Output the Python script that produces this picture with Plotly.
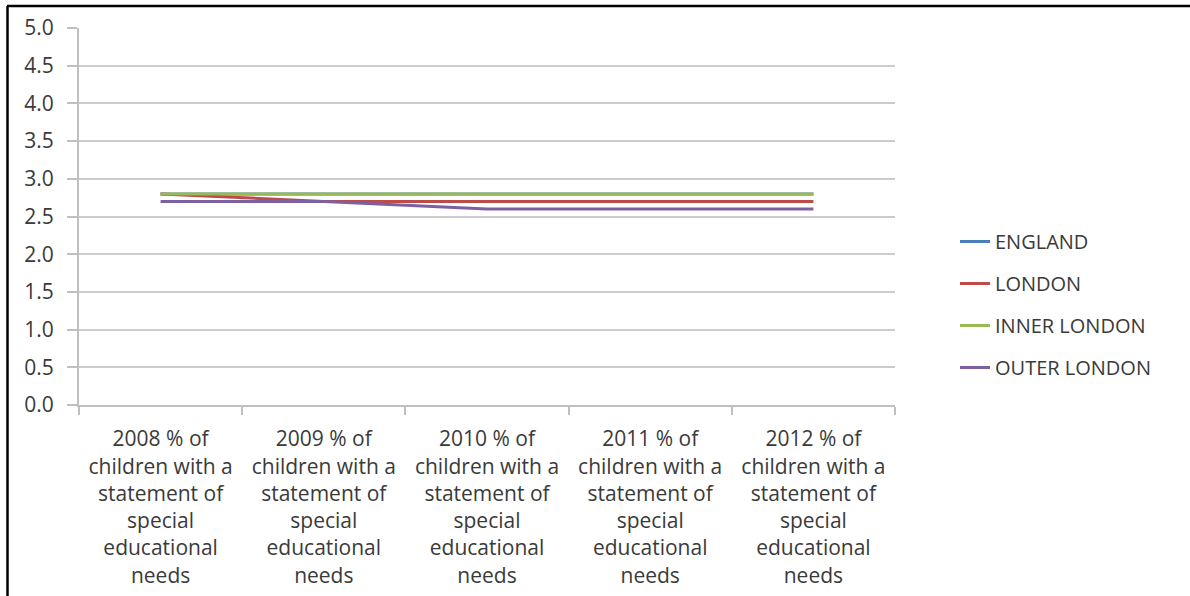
import plotly.graph_objects as go

# Percentage of children with a statement of special educational needs
years = ["2008", "2009", "2010", "2011", "2012"]
categories = [f"{y} % of<br>children with a<br>statement of<br>special<br>educational<br>needs" for y in years]

england = [2.8, 2.8, 2.8, 2.8, 2.8]
london = [2.8, 2.7, 2.7, 2.7, 2.7]
inner_london = [2.8, 2.8, 2.8, 2.8, 2.8]
outer_london = [2.7, 2.7, 2.6, 2.6, 2.6]

series = [
    ("ENGLAND", england, "#4A7EBB"),
    ("LONDON", london, "#BE4B48"),
    ("INNER LONDON", inner_london, "#98B954"),
    ("OUTER LONDON", outer_london, "#7D60A0"),
]

FONT = "Open Sans"
TEXT = "#3A3A3A"

fig = go.Figure()
for i, (name, vals, color) in enumerate(series):
    fig.add_trace(go.Scatter(
        x=categories, y=vals, name=name, mode="lines",
        line=dict(color=color, width=3),
        legendgroup=f"g{i}",
    ))

# Plot area geometry in pixels
L, R, T, B = 79, 895, 28, 405
W, H = 1190, 596
pw, ph = R - L, B - T

fig.update_layout(
    width=W, height=H,
    margin=dict(l=L, r=W - R, t=T, b=H - B),
    paper_bgcolor="white", plot_bgcolor="white",
    font=dict(family=FONT, size=18, color=TEXT),
    showlegend=True,
    legend=dict(
        x=(955 - L) / pw, y=(405 - 222) / ph, xanchor="left", yanchor="top",
        font=dict(family=FONT, size=20, color=TEXT),
        traceorder="grouped", tracegroupgap=13,
        bgcolor="rgba(0,0,0,0)",
    ),
    xaxis=dict(
        type="category", tickson="boundaries", automargin=False,
        showline=True, linecolor="#BFBFBF", linewidth=2,
        ticks="outside", ticklen=8, tickcolor="#BFBFBF", tickwidth=2,
        showgrid=False, tickfont=dict(family=FONT, size=21, color=TEXT),
        ticklabelstandoff=14,
        range=[-0.5, 4.5],
    ),
    yaxis=dict(
        range=[0, 5], dtick=0.5, tickformat=".1f", automargin=False,
        showline=True, linecolor="#BFBFBF", linewidth=2,
        ticks="outside", ticklen=10, tickcolor="#BFBFBF", tickwidth=2,
        gridcolor="#CCCCCC", gridwidth=2, zeroline=False,
        tickfont=dict(family=FONT, size=21, color=TEXT),
        ticklabelstandoff=9,
    ),
    shapes=[
        # frame lines along the top and left edges
        dict(type="line", xref="paper", yref="paper",
             x0=(7 - L) / pw, x1=(W + 5 - L) / pw,
             y0=(B - 6) / ph, y1=(B - 6) / ph,
             line=dict(color="black", width=2.5)),
        dict(type="line", xref="paper", yref="paper",
             x0=(7.5 - L) / pw, x1=(7.5 - L) / pw,
             y0=(B - 6) / ph, y1=(B - H - 5) / ph,
             line=dict(color="black", width=2.5)),
    ],
)

fig.write_html("out.html")
